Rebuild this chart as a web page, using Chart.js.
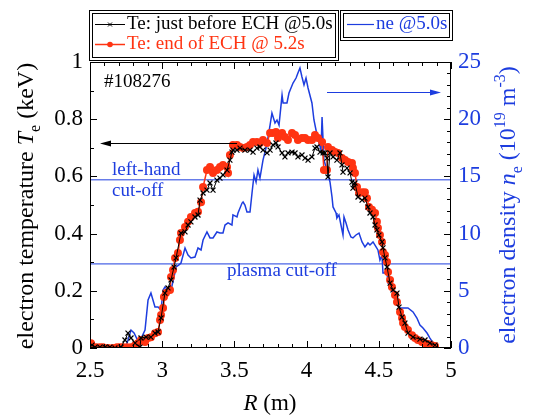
<!DOCTYPE html>
<html>
<head>
<meta charset="utf-8">
<script src="https://cdn.jsdelivr.net/npm/chart.js@4.4.1/dist/chart.umd.min.js"></script>
<style>
html, body { margin: 0; padding: 0; background: #fff; }
</style>
</head>
<body>
<canvas id="c" width="533" height="415"></canvas>
<script>
"use strict";

// ne @5.0s (10^19 m^-3)
var neR = [2.749, 2.784, 2.805, 2.839, 2.881, 2.902, 2.922, 2.950, 2.971, 2.992, 3.006, 3.019, 3.040, 3.061, 3.082, 3.096, 3.116, 3.130,
  3.158, 3.179, 3.199, 3.227, 3.248, 3.269, 3.283, 3.310, 3.331, 3.352, 3.379, 3.400, 3.421, 3.435, 3.456, 3.483, 3.490, 3.518, 3.525,
  3.553, 3.560, 3.573, 3.587, 3.608, 3.622, 3.636, 3.650, 3.663, 3.677, 3.698, 3.719, 3.733, 3.747, 3.760, 3.781, 3.795, 3.809, 3.830,
  3.837, 3.864, 3.878, 3.906, 3.927, 3.940, 3.954, 3.968, 3.982, 3.996, 4.010, 4.037, 4.051, 4.072, 4.086, 4.100, 4.107, 4.120, 4.141,
  4.162, 4.176, 4.183, 4.204, 4.210, 4.224, 4.238, 4.252, 4.259, 4.273, 4.287, 4.307, 4.321, 4.342, 4.363, 4.384, 4.404, 4.425, 4.439,
  4.460, 4.481, 4.494, 4.508, 4.522, 4.529, 4.557, 4.564, 4.591, 4.598, 4.626, 4.647, 4.674, 4.702, 4.737, 4.764, 4.785, 4.806, 4.834,
  4.854, 4.875, 4.889];
var neVal = [0.1, 1.57, 1.31, 0.44, 1.57, 4.2, 4.81, 3.58, 3.58, 3.32, 5.07, 5.33, 5.07, 5.07, 6.21, 7.08, 7.26, 7.43,
  8.74, 8.13, 7.87, 7.95, 8.74, 8.57, 9.44, 10.14, 9.62, 9.62, 10.14, 10.05, 10.05, 10.75, 10.93, 10.75, 11.63, 11.45, 11.8,
  12.67, 12.76, 12.5, 11.89, 11.89, 13.55, 15.12, 14.51, 15.56, 14.86, 16.43, 17.48, 18.44, 19.49, 20.54, 19.67, 19.93, 19.49, 22.11,
  21.42, 21.42, 22.29, 23.16, 23.6, 24.04, 24.47, 23.69, 22.99, 23.6, 22.73, 21.42, 19.93, 18.62, 17.92, 17.31, 20.19, 16.43, 15.56,
  14.51, 13.2, 12.33, 11.8, 11.36, 11.63, 10.75, 9.88, 11.45, 10.93, 10.31, 9.7, 9.62, 9.88, 10.05, 9.27, 8.83, 9.18, 9.0,
  9.27, 8.83, 8.57, 7.69, 8.13, 6.56, 6.56, 5.68, 5.07, 4.81, 3.76, 3.5, 3.5, 3.5, 3.15, 2.62, 2.01, 1.75, 1.31,
  0.87, 0.44, 0.09];

// Te just before ECH @5.0s (keV)
var teBeforeR = [2.514, 2.535, 2.569, 2.604, 2.638, 2.673, 2.715, 2.742, 2.763, 2.784, 2.812, 2.846, 2.853, 2.888, 2.922, 2.950, 2.971,
  2.992, 3.019, 3.040, 3.061, 3.082, 3.096, 3.130, 3.158, 3.179, 3.199, 3.227, 3.248, 3.262, 3.283, 3.310, 3.331, 3.352, 3.379, 3.400,
  3.421, 3.449, 3.469, 3.483, 3.490, 3.518, 3.539, 3.573, 3.608, 3.629, 3.656, 3.677, 3.698, 3.726, 3.747, 3.767, 3.788, 3.802, 3.830,
  3.850, 3.871, 3.899, 3.920, 3.940, 3.968, 3.989, 4.010, 4.037, 4.058, 4.072, 4.093, 4.114, 4.127, 4.141, 4.148, 4.162, 4.183, 4.210,
  4.231, 4.245, 4.252, 4.280, 4.301, 4.314, 4.321, 4.335, 4.356, 4.384, 4.404, 4.425, 4.439, 4.460, 4.474, 4.487, 4.501, 4.522, 4.529,
  4.543, 4.557, 4.578, 4.598, 4.626, 4.640, 4.661, 4.681, 4.702, 4.737, 4.785, 4.820, 4.854, 4.889];
var teBeforeVal = [0.01, 0.003, 0.003, 0.003, 0.003, 0, 0.003, 0.028, 0.052, 0.035, 0.017, 0.003, 0.035, 0.038, 0.038, 0.052, 0.056,
  0.105, 0.192, 0.21, 0.238, 0.283, 0.315, 0.402, 0.406, 0.43, 0.441, 0.458, 0.465, 0.517, 0.542, 0.552, 0.577, 0.552, 0.587, 0.594,
  0.605, 0.622, 0.657, 0.685, 0.692, 0.692, 0.699, 0.692, 0.692, 0.685, 0.699, 0.703, 0.692, 0.682, 0.692, 0.71, 0.717, 0.703, 0.682,
  0.668, 0.682, 0.685, 0.682, 0.668, 0.675, 0.664, 0.657, 0.668, 0.699, 0.703, 0.685, 0.682, 0.682, 0.664, 0.598, 0.682, 0.668, 0.657,
  0.682, 0.64, 0.615, 0.629, 0.612, 0.58, 0.559, 0.577, 0.528, 0.517, 0.524, 0.493, 0.472, 0.458, 0.43, 0.413, 0.395, 0.371, 0.35,
  0.315, 0.283, 0.227, 0.203, 0.192, 0.143, 0.108, 0.087, 0.052, 0.038, 0.031, 0.028, 0.017, 0.01];

// Te end of ECH @ 5.2s (keV)
var teEndR = [2.507, 2.542, 2.569, 2.590, 2.625, 2.659, 2.687, 2.708, 2.729, 2.756, 2.784, 2.812, 2.832, 2.853, 2.881, 2.902, 2.922,
  2.950, 2.971, 2.985, 2.992, 3.006, 3.012, 3.026, 3.054, 3.061, 3.075, 3.089, 3.109, 3.123, 3.130, 3.158, 3.179, 3.199, 3.227, 3.248,
  3.269, 3.283, 3.310, 3.331, 3.352, 3.379, 3.400, 3.421, 3.449, 3.456, 3.469, 3.490, 3.518, 3.539, 3.560, 3.587, 3.608, 3.629, 3.656,
  3.677, 3.698, 3.726, 3.747, 3.767, 3.788, 3.802, 3.830, 3.850, 3.871, 3.899, 3.920, 3.940, 3.968, 3.989, 4.010, 4.037, 4.058, 4.079,
  4.107, 4.120, 4.141, 4.148, 4.176, 4.197, 4.217, 4.245, 4.266, 4.287, 4.314, 4.321, 4.335, 4.349, 4.363, 4.384, 4.404, 4.418, 4.432,
  4.453, 4.474, 4.487, 4.494, 4.508, 4.522, 4.529, 4.543, 4.557, 4.564, 4.578, 4.591, 4.612, 4.626, 4.647, 4.661, 4.668, 4.681, 4.702,
  4.730, 4.751, 4.771, 4.799, 4.820, 4.841, 4.868, 4.889];
var teEndVal = [0.017, 0.003, 0.003, 0.003, 0, 0, 0.003, 0.003, 0.003, 0.003, 0.003, 0.01, 0.017, 0.028, 0.021, 0.035, 0.038,
  0.052, 0.056, 0.098, 0.115, 0.14, 0.178, 0.192, 0.203, 0.248, 0.273, 0.315, 0.332, 0.378, 0.402, 0.423, 0.441, 0.458, 0.472, 0.476,
  0.51, 0.563, 0.622, 0.633, 0.612, 0.622, 0.633, 0.64, 0.633, 0.612, 0.675, 0.71, 0.71, 0.703, 0.699, 0.703, 0.71, 0.72, 0.72,
  0.717, 0.727, 0.717, 0.752, 0.752, 0.755, 0.734, 0.752, 0.738, 0.727, 0.752, 0.745, 0.727, 0.734, 0.734, 0.727, 0.727, 0.745, 0.734,
  0.72, 0.622, 0.622, 0.703, 0.692, 0.685, 0.682, 0.664, 0.657, 0.65, 0.647, 0.629, 0.612, 0.563, 0.542, 0.545, 0.545, 0.524, 0.493,
  0.483, 0.472, 0.441, 0.42, 0.395, 0.371, 0.336, 0.325, 0.301, 0.266, 0.238, 0.213, 0.185, 0.161, 0.126, 0.105, 0.087, 0.073, 0.063,
  0.045, 0.035, 0.028, 0.021, 0.017, 0.014, 0.01, 0.007];

// cut-off densities (10^19 m^-3)
var leftHandCutoff = 14.7;
var plasmaCutoff = 7.35;

var SERIF = "'Liberation Serif', Tinos, 'DejaVu Serif', serif";
var BLUE = '#1d3ddf';
var RED = '#ff3412';

function toXY(xs, ys) {
    return xs.map(function (x, i) { return { x: x, y: ys[i] }; });
}

function partFont(p, size) {
    var s = p[2] ? Math.round(size * 0.68) : size;
    return (p[1] === 'i' ? 'italic ' : '') + s + 'px ' + SERIF;
}

// text made of pieces: [text, 'i' for italic, 'sub' | 'sup']
function richText(ctx, parts, x, y, size) {
    var w = 0;
    parts.forEach(function (p) { ctx.font = partFont(p, size); w += ctx.measureText(p[0]).width; });
    var cx = x - w / 2;
    parts.forEach(function (p) {
        ctx.font = partFont(p, size);
        var dy = p[2] === 'sub' ? size * 0.28 : (p[2] === 'sup' ? -size * 0.42 : 0);
        ctx.fillText(p[0], cx, y + dy);
        cx += ctx.measureText(p[0]).width;
    });
}

function arrow(ctx, x1, y, x2, color) {
    var dir = x2 > x1 ? 1 : -1;
    ctx.strokeStyle = color;
    ctx.fillStyle = color;
    ctx.lineWidth = 1;
    ctx.beginPath();
    ctx.moveTo(x1, y);
    ctx.lineTo(x2 - dir * 8, y);
    ctx.stroke();
    ctx.beginPath();
    ctx.moveTo(x2, y);
    ctx.lineTo(x2 - dir * 11, y - 3);
    ctx.lineTo(x2 - dir * 11, y + 3);
    ctx.closePath();
    ctx.fill();
}

function doubleBox(ctx, x1, y1, x2, y2) {
    ctx.strokeStyle = '#000';
    ctx.lineWidth = 1;
    ctx.strokeRect(x1 + 0.5, y1 + 0.5, x2 - x1, y2 - y1);
    ctx.strokeRect(x1 + 3.5, y1 + 3.5, x2 - x1 - 6, y2 - y1 - 6);
}

// inward major and minor tick marks on all four sides
function drawTicks(ctx, scale, from, to, major, minor, edge, area) {
    ctx.strokeStyle = '#000';
    ctx.lineWidth = 1;
    var n = Math.round((to - from) / minor);
    for (var i = 0; i <= n; i++) {
        var v = from + i * minor;
        var isMajor = Math.abs(v / major - Math.round(v / major)) < 1e-6;
        var len = isMajor ? 7 : 4;
        var p = Math.round(scale.getPixelForValue(v)) + 0.5;
        ctx.beginPath();
        if (edge === 'bottom') { ctx.moveTo(p, area.bottom); ctx.lineTo(p, area.bottom - len); }
        if (edge === 'top') { ctx.moveTo(p, area.top); ctx.lineTo(p, area.top + len); }
        if (edge === 'left') { ctx.moveTo(area.left, p); ctx.lineTo(area.left + len, p); }
        if (edge === 'right') { ctx.moveTo(area.right, p); ctx.lineTo(area.right - len, p); }
        ctx.stroke();
    }
}

var decorations = {
    id: 'decorations',
    afterDraw: function (chart) {
        var ctx = chart.ctx;
        var a = chart.chartArea;
        var sc = chart.scales;
        ctx.save();

        // frame and ticks
        ctx.strokeStyle = '#000';
        ctx.lineWidth = 1;
        ctx.strokeRect(a.left + 0.5, a.top + 0.5, a.right - a.left - 1, a.bottom - a.top - 1);
        drawTicks(ctx, sc.x, 2.5, 5, 0.5, 0.1, 'bottom', a);
        drawTicks(ctx, sc.x, 2.5, 5, 0.5, 0.1, 'top', a);
        drawTicks(ctx, sc.y, 0, 1, 0.2, 0.1, 'left', a);
        drawTicks(ctx, sc.yR, 0, 25, 5, 1, 'right', a);

        // legends
        doubleBox(ctx, 89, 10, 338, 60);
        doubleBox(ctx, 340, 10, 452, 40);
        ctx.textAlign = 'left';
        ctx.textBaseline = 'alphabetic';
        ctx.font = '19px ' + SERIF;

        ctx.strokeStyle = '#000';
        ctx.beginPath(); ctx.moveTo(95, 24.5); ctx.lineTo(125, 24.5); ctx.stroke();
        ctx.beginPath(); ctx.moveTo(108, 22.5); ctx.lineTo(112, 26.5); ctx.moveTo(112, 22.5); ctx.lineTo(108, 26.5); ctx.stroke();
        ctx.fillStyle = '#000';
        ctx.fillText('Te: just before ECH @5.0s', 127, 29);

        ctx.strokeStyle = RED;
        ctx.lineWidth = 1.5;
        ctx.beginPath(); ctx.moveTo(95, 44.5); ctx.lineTo(125, 44.5); ctx.stroke();
        ctx.fillStyle = RED;
        ctx.beginPath(); ctx.arc(110, 44.5, 2.8, 0, Math.PI * 2); ctx.fill();
        ctx.fillText('Te: end of ECH @ 5.2s', 127, 49);

        ctx.strokeStyle = BLUE;
        ctx.lineWidth = 1.2;
        ctx.beginPath(); ctx.moveTo(347, 24.5); ctx.lineTo(374, 24.5); ctx.stroke();
        ctx.fillStyle = BLUE;
        ctx.fillText('ne @5.0s', 376, 29);

        // annotations
        ctx.fillStyle = '#000';
        ctx.fillText('#108276', 104, 87);
        ctx.fillStyle = BLUE;
        ctx.fillText('left-hand', 112, 175);
        ctx.fillText('cut-off', 112, 196);
        ctx.fillText('plasma cut-off', 227, 276);
        arrow(ctx, 237, 143.5, 100, '#000');
        arrow(ctx, 327, 92.5, 441, BLUE);

        // axis titles
        ctx.fillStyle = '#000';
        ctx.save();
        ctx.translate(33, 206);
        ctx.rotate(-Math.PI / 2);
        richText(ctx, [['electron temperature '], ['T', 'i'], ['e', '', 'sub'], [' (keV)']], 0, 0, 24);
        ctx.restore();

        ctx.fillStyle = BLUE;
        ctx.save();
        ctx.translate(515, 205);
        ctx.rotate(-Math.PI / 2);
        richText(ctx, [['electron density '], ['n', 'i'], ['e', '', 'sub'], [' (10'], ['19', '', 'sup'], [' m'], ['-3', '', 'sup'], [')']], 0, 0, 24);
        ctx.restore();

        ctx.fillStyle = '#000';
        richText(ctx, [['R', 'i'], [' (m)']], 270, 410, 23);

        ctx.restore();
    }
};

var tickFont = { family: SERIF, size: 23 };
var plainNumber = function (v) { return String(Math.round(v * 100) / 100); };

new Chart(document.getElementById('c').getContext('2d'), {
    type: 'line',
    data: {
        datasets: [{
            label: 'Te: just before ECH @5.0s',
            data: toXY(teBeforeR, teBeforeVal),
            yAxisID: 'y',
            borderColor: '#000',
            borderWidth: 1,
            pointStyle: 'crossRot',
            pointRadius: 3.5,
            pointBorderColor: '#000',
            pointBorderWidth: 1.2,
            order: 1
        }, {
            label: 'Te: end of ECH @ 5.2s',
            data: toXY(teEndR, teEndVal),
            yAxisID: 'y',
            borderColor: RED,
            borderWidth: 1.5,
            pointStyle: 'circle',
            pointRadius: 4,
            pointBackgroundColor: RED,
            pointBorderColor: RED,
            pointBorderWidth: 0,
            order: 2
        }, {
            label: 'ne @5.0s',
            data: toXY(neR, neVal),
            yAxisID: 'yR',
            borderColor: BLUE,
            borderWidth: 1.5,
            pointRadius: 0,
            order: 3
        }, {
            label: 'left-hand cut-off',
            data: toXY([2.5, 5], [leftHandCutoff, leftHandCutoff]),
            yAxisID: 'yR',
            borderColor: BLUE,
            borderWidth: 1,
            pointRadius: 0,
            order: 4
        }, {
            label: 'plasma cut-off',
            data: toXY([2.5, 5], [plasmaCutoff, plasmaCutoff]),
            yAxisID: 'yR',
            borderColor: BLUE,
            borderWidth: 1,
            pointRadius: 0,
            order: 5
        }]
    },
    options: {
        responsive: false,
        animation: false,
        layout: { padding: { top: 62, left: 0, right: 0, bottom: 0 } },
        scales: {
            x: {
                type: 'linear',
                min: 2.5,
                max: 5,
                grid: { display: false, drawTicks: false },
                border: { display: false },
                ticks: { stepSize: 0.5, font: tickFont, color: '#000', padding: 9, maxRotation: 0, callback: plainNumber },
                afterFit: function (s) { s.height = 67; }
            },
            y: {
                type: 'linear',
                position: 'left',
                min: 0,
                max: 1,
                grid: { display: false, drawTicks: false },
                border: { display: false },
                ticks: { stepSize: 0.2, font: tickFont, color: '#000', padding: 7, callback: plainNumber },
                afterFit: function (s) { s.width = 90; }
            },
            yR: {
                type: 'linear',
                position: 'right',
                min: 0,
                max: 25,
                grid: { display: false, drawTicks: false },
                border: { display: false },
                ticks: { stepSize: 5, font: tickFont, color: BLUE, padding: 7, callback: plainNumber },
                afterFit: function (s) { s.width = 82; }
            }
        },
        plugins: {
            legend: { display: false },
            tooltip: { enabled: false }
        }
    },
    plugins: [decorations]
});
</script>
</body>
</html>
